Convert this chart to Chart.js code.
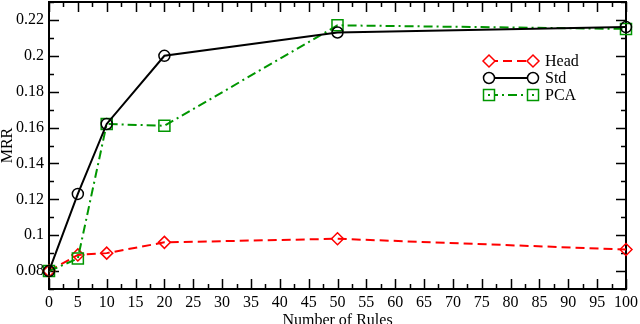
<!DOCTYPE html>
<html><head><meta charset="utf-8">
<script src="https://cdn.jsdelivr.net/npm/chart.js@4/dist/chart.umd.min.js"></script>
<style>html,body{margin:0;padding:0;background:#fff}#wrap{width:640px;height:324px;position:relative}</style>
</head><body>
<div id="wrap"><canvas id="c"></canvas></div>
<script>
const rules = [0, 5, 10, 20, 50, 100];
const headMRR = [0.080, 0.089, 0.090, 0.096, 0.098, 0.092];
const stdMRR  = [0.080, 0.123, 0.162, 0.200, 0.213, 0.216];
const pcaMRR  = [0.080, 0.087, 0.162, 0.161, 0.217, 0.215];
const seriesNames = ['Head', 'Std', 'PCA'];
const yTickLabels = ['0.08', '0.1', '0.12', '0.14', '0.16', '0.18', '0.2', '0.22'];
const xTickLabels = ['0','5','10','15','20','25','30','35','40','45','50','55','60','65','70','75','80','85','90','95','100'];

const RED = '#ff0000', BLACK = '#000000', GREEN = 'rgb(0,150,0)';
const FONT = "'Liberation Serif', 'Times New Roman', serif";

function pts(ys){ return rules.map((x,i)=>({x:x, y:ys[i]})); }

function drawMarker(ctx, kind, x, y, color){
  ctx.save();
  ctx.strokeStyle = color; ctx.lineWidth = 1.5; ctx.setLineDash([]);
  ctx.fillStyle = '#fff';
  ctx.beginPath();
  if (kind === 'diamond'){
    const r = 6;
    ctx.moveTo(x-r,y); ctx.lineTo(x,y-r); ctx.lineTo(x+r,y); ctx.lineTo(x,y+r); ctx.closePath();
  } else if (kind === 'circle'){
    ctx.arc(x,y,5.5,0,Math.PI*2);
  } else {
    ctx.rect(x-5.5,y-5.5,11,11);
  }
  ctx.fill(); ctx.stroke();
  if (kind === 'square'){ ctx.fillStyle = color; ctx.fillRect(x-1,y-1,2,2); }
  ctx.restore();
}

const frameTicks = {
  id: 'frameTicks',
  beforeDatasetsDraw(chart){
    const {ctx, chartArea:a, scales} = chart;
    ctx.save();
    ctx.strokeStyle = '#000'; ctx.lineWidth = 1.5; ctx.setLineDash([]);
    ctx.beginPath();
    scales.x.ticks.forEach(t=>{
      const px = Math.round(scales.x.getPixelForValue(t.value))+0.5;
      const major = Math.abs(t.value/5 - Math.round(t.value/5)) < 1e-6;
      const L = major ? 10 : 5;
      ctx.moveTo(px, a.bottom); ctx.lineTo(px, a.bottom - L);
      ctx.moveTo(px, a.top); ctx.lineTo(px, a.top + L);
    });
    scales.y.ticks.forEach(t=>{
      const py = Math.round(scales.y.getPixelForValue(t.value))+0.5;
      const k = Math.round(t.value*100);
      const major = k % 2 === 0;
      const L = major ? 10 : 5;
      ctx.moveTo(a.left, py); ctx.lineTo(a.left + L, py);
      ctx.moveTo(a.right, py); ctx.lineTo(a.right - L, py);
    });
    ctx.stroke();
    ctx.lineWidth = 2;
    ctx.strokeRect(a.left, a.top, a.right - a.left, a.bottom - a.top);
    ctx.restore();
  },
  afterDraw(chart){
    const ctx = chart.ctx;
    const rows = [
      {name: seriesNames[0], color: RED, dash: [9,5], kind: 'diamond', y: 61},
      {name: seriesNames[1], color: BLACK, dash: [], kind: 'circle', y: 78},
      {name: seriesNames[2], color: GREEN, dash: [9,4,2,4], kind: 'square', y: 95}
    ];
    const x1 = 489, x2 = 533, tx = 545;
    rows.forEach(r=>{
      ctx.save();
      ctx.strokeStyle = r.color; ctx.lineWidth = 2; ctx.setLineDash(r.dash);
      ctx.beginPath(); ctx.moveTo(x1, r.y); ctx.lineTo(x2, r.y); ctx.stroke();
      ctx.restore();
      drawMarker(ctx, r.kind, x1, r.y, r.color);
      drawMarker(ctx, r.kind, x2, r.y, r.color);
      ctx.save();
      ctx.fillStyle = '#000'; ctx.font = '16px ' + FONT;
      ctx.textBaseline = 'middle'; ctx.textAlign = 'left';
      ctx.fillText(r.name, tx, r.y + 1);
      ctx.restore();
    });
  }
};

new Chart(document.getElementById('c'), {
  type: 'line',
  data: {
    datasets: [
      {label: seriesNames[1], data: pts(stdMRR), borderColor: BLACK, borderWidth: 2, borderDash: [],
       pointStyle: 'circle', pointRadius: 5.5, pointBorderWidth: 1.5, pointBorderColor: BLACK, pointBackgroundColor: 'rgba(0,0,0,0)', clip: false},
      {label: seriesNames[2], data: pts(pcaMRR), borderColor: GREEN, borderWidth: 2, borderDash: [9,4,2,4],
       pointStyle: 'rect', pointRadius: 7.8, pointBorderWidth: 1.5, pointBorderColor: GREEN, pointBackgroundColor: 'rgba(0,0,0,0)', clip: false},
      {label: seriesNames[0], data: pts(headMRR), borderColor: RED, borderWidth: 2, borderDash: [9,5],
       pointStyle: 'rectRot', pointRadius: 6, pointBorderWidth: 1.5, pointBorderColor: RED, pointBackgroundColor: 'rgba(0,0,0,0)', clip: false}
    ]
  },
  options: {
    responsive: true, maintainAspectRatio: false, animation: false,
    layout: {autoPadding: false, padding: {left: 0, right: 14, top: 2, bottom: 0}},
    plugins: {legend: {display: false}, tooltip: {enabled: false}},
    elements: {line: {tension: 0}},
    scales: {
      x: {
        type: 'linear', min: 0, max: 100,
        grid: {display: false, drawTicks: false}, border: {display: false},
        ticks: {stepSize: 2.5, autoSkip: false, maxRotation: 0, color: '#000', padding: 4,
          font: {family: FONT, size: 16},
          callback: v => { const i = Math.round(v/5); return Math.abs(v - i*5) < 1e-6 ? xTickLabels[i] : ''; }},
        title: {display: true, text: 'Number of Rules', color: '#000', font: {family: FONT, size: 16}, padding: {top: 0, bottom: -6}},
        afterFit: s => { s.height = 35; s.paddingLeft = 0; s.paddingRight = 0; }
      },
      y: {
        min: 0.07, max: 0.23,
        grid: {display: false, drawTicks: false}, border: {display: false},
        ticks: {stepSize: 0.01, autoSkip: false, color: '#000', padding: 5,
          font: {family: FONT, size: 16},
          callback: v => { const k = Math.round(v*100); if (k % 2 === 0 && k >= 8 && k <= 22) return yTickLabels[(k-8)/2]; return ''; }},
        title: {display: true, text: 'MRR', color: '#000', font: {family: FONT, size: 16}, padding: {top: -2, bottom: 0}},
        afterFit: s => { s.width = 49; s.paddingTop = 0; s.paddingBottom = 0; }
      }
    }
  },
  plugins: [frameTicks]
});
</script>
</body></html>
